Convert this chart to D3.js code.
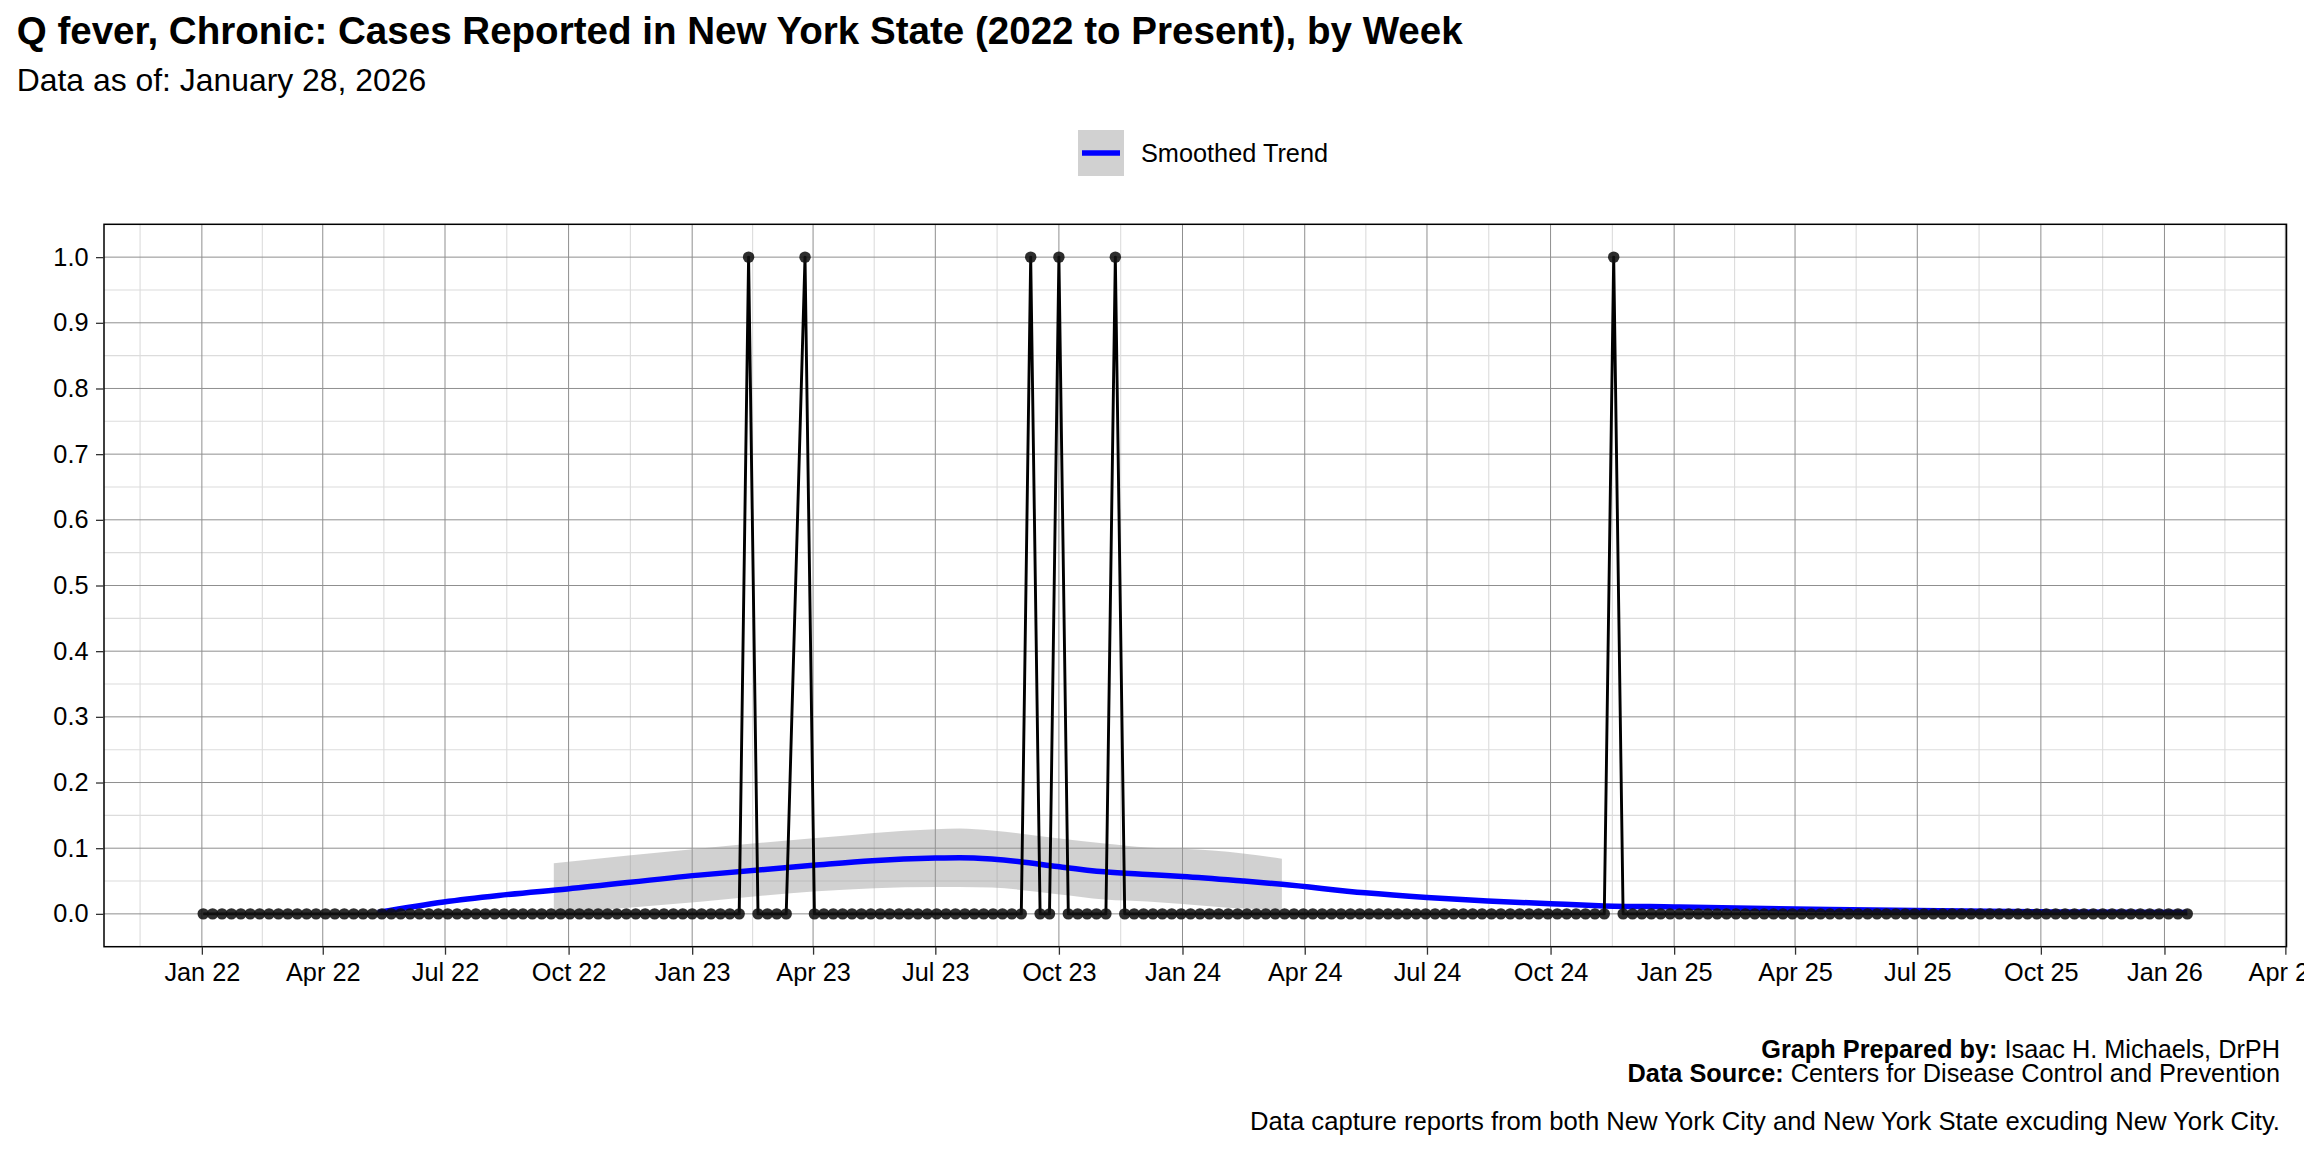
<!DOCTYPE html>
<html><head><meta charset="utf-8">
<script src="https://cdn.jsdelivr.net/npm/d3@7"></script>
<style>
body{margin:0;background:#fff}
svg{display:block}
text{font-family:"Liberation Sans",Arial,Helvetica,sans-serif;fill:#000}
</style>
</head><body>
<svg id="chart" width="2304" height="1152"></svg>
<script>
// ---------- DATA ----------
const firstWeek = "2022-01-02";           // week start of first observation (weekly series)
// weekly case counts, one entry per week from firstWeek (null = week not reported)
const weeklyCases = [
  0,0,0,0,0,0,0,0,0,0,0,0,0,0,0,0,0,0,0,0,
  0,0,0,0,0,0,0,0,0,0,0,0,0,0,0,0,0,0,0,0,
  0,0,0,0,0,0,0,0,0,0,0,0,0,0,0,0,0,0,1,0,
  0,0,0,null,1,0,0,0,0,0,0,0,0,0,0,0,0,0,0,0,
  0,0,0,0,0,0,0,0,1,0,0,1,0,0,0,0,0,1,0,0,
  0,0,0,0,0,0,0,0,0,0,0,0,0,0,0,0,0,0,0,0,
  0,0,0,0,0,0,0,0,0,0,0,0,0,0,0,0,0,0,0,0,
  0,0,0,0,0,0,0,0,0,0,1,0,0,0,0,0,0,0,0,0,
  0,0,0,0,0,0,0,0,0,0,0,0,0,0,0,0,0,0,0,0,
  0,0,0,0,0,0,0,0,0,0,0,0,0,0,0,0,0,0,0,0,
  0,0,0,0,0,0,0,0,0,0,0,0
];
// smoothed trend (visible part)
const trendDates = ["2022-05-12","2022-06-30","2022-08-10","2022-09-30","2023-01-06","2023-04-01",
  "2023-05-15","2023-07-01","2023-07-19","2023-08-12","2023-09-02","2023-09-30","2023-11-04",
  "2023-12-06","2024-01-01","2024-02-15","2024-03-15","2024-05-16","2024-07-01","2024-08-15",
  "2024-10-01","2024-11-06","2025-01-01","2025-04-01","2025-06-30","2025-10-07","2026-01-18"];
const trendValues = [0.002,0.018,0.028,0.038,0.059,0.074,
  0.081,0.085,0.0856,0.0835,0.0795,0.072,0.064,
  0.060,0.057,0.050,0.045,0.032,0.025,0.0196,
  0.0155,0.0125,0.0105,0.0075,0.005,0.003,0.002];
// confidence band (visible part)
const bandDates = ["2022-09-20","2023-01-09","2023-04-01","2023-07-01","2023-07-19","2023-08-12",
  "2023-09-30","2023-11-04","2023-12-06","2024-01-01","2024-02-15","2024-03-15"];
const bandUpper = [0.077,0.100,0.115,0.129,0.130,0.127,0.115,0.107,0.101,0.099,0.092,0.084];
const bandLower = [0.000,0.019,0.034,0.041,0.041,0.040,0.030,0.022,0.019,0.015,0.008,0.006];
const yTickValues = [0,0.1,0.2,0.3,0.4,0.5,0.6,0.7,0.8,0.9,1.0];
const titleText = "Q fever, Chronic: Cases Reported in New York State (2022 to Present), by Week";
const subtitleText = "Data as of: January 28, 2026";
const legendLabel = "Smoothed Trend";

// ---------- BUILD ----------
const parse = d3.utcParse("%Y-%m-%d");
const start = parse(firstWeek);
const series = weeklyCases.map((v,i)=>({date:d3.utcDay.offset(start,7*i), value:v}))
  .filter(d=>d.value!==null);
const trend = trendDates.map((d,i)=>({date:parse(d), value:trendValues[i]}));
const band = bandDates.map((d,i)=>({date:parse(d), hi:bandUpper[i], lo:bandLower[i]}));

const svg = d3.select("#chart");
const P = {left:104, right:2286.5, top:224.3, bottom:946.7};
const FS = 25.3;

const [d0,d1] = d3.extent(series, d=>d.date);
const pad = (d1-d0)*0.05;
const x = d3.scaleUtc().domain([new Date(+d0-pad), new Date(+d1+pad)]).range([P.left,P.right]);
const y = d3.scaleLinear().domain([-0.05,1.05]).range([P.bottom,P.top]);

// gridlines
const majorX = d3.utcMonth.every(3).range(d3.utcMonth.offset(x.domain()[0],-3), d3.utcMonth.offset(x.domain()[1],3));
const minorX = [];
for(let i=0;i<majorX.length-1;i++) minorX.push(new Date((+majorX[i]+ +majorX[i+1])/2));
const inX = d=>x(d)>P.left+0.5 && x(d)<P.right-0.5;
const minorY = d3.range(-0.05,1.06,0.1).map(v=>+v.toFixed(2)).filter(v=>v>-0.04&&v<1.04);

const grid = svg.append("g");
grid.selectAll(".mny").data(minorY).join("line")
  .attr("x1",P.left).attr("x2",P.right).attr("y1",d=>y(d)).attr("y2",d=>y(d))
  .attr("stroke","#dcdcdc").attr("stroke-width",1.1);
grid.selectAll(".mnx").data(minorX.filter(inX)).join("line")
  .attr("y1",P.top).attr("y2",P.bottom).attr("x1",d=>x(d)).attr("x2",d=>x(d))
  .attr("stroke","#dcdcdc").attr("stroke-width",1.1);
grid.selectAll(".mjy").data(yTickValues).join("line")
  .attr("x1",P.left).attr("x2",P.right).attr("y1",d=>y(d)).attr("y2",d=>y(d))
  .attr("stroke","#8f8f8f").attr("stroke-width",1);
grid.selectAll(".mjx").data(majorX.filter(inX)).join("line")
  .attr("y1",P.top).attr("y2",P.bottom).attr("x1",d=>x(d)).attr("x2",d=>x(d))
  .attr("stroke","#8f8f8f").attr("stroke-width",1);

// confidence band
svg.append("path").datum(band)
  .attr("d", d3.area().x(d=>x(d.date)).y0(d=>y(d.lo)).y1(d=>y(d.hi)).curve(d3.curveMonotoneX))
  .attr("fill","#999999").attr("fill-opacity",0.45);

// smoothed trend
svg.append("path").datum(trend)
  .attr("d", d3.line().x(d=>x(d.date)).y(d=>y(d.value)).curve(d3.curveMonotoneX))
  .attr("fill","none").attr("stroke","#0000ff").attr("stroke-width",5.5);

// weekly line
svg.append("path").datum(series)
  .attr("d", d3.line().x(d=>x(d.date)).y(d=>y(d.value)))
  .attr("fill","none").attr("stroke","#000").attr("stroke-width",2.9).attr("stroke-linejoin","round");

// points
svg.append("g").selectAll("circle").data(series).join("circle")
  .attr("cx",d=>x(d.date)).attr("cy",d=>y(d.value)).attr("r",5.7)
  .attr("fill","#111").attr("fill-opacity",0.88);

// panel border
svg.append("rect").attr("x",P.left).attr("y",P.top).attr("width",P.right-P.left).attr("height",P.bottom-P.top)
  .attr("fill","none").attr("stroke","#000").attr("stroke-width",1.5);

// axes
const xAxis = svg.append("g").attr("transform",`translate(0,${P.bottom})`)
  .call(d3.axisBottom(x).tickValues(majorX.filter(d=>x(d)>=P.left-1&&x(d)<=P.right+1))
    .tickFormat(d3.utcFormat("%b %y")).tickSize(8).tickPadding(8.3));
const yAxis = svg.append("g").attr("transform",`translate(${P.left},0)`)
  .call(d3.axisLeft(y).tickValues(yTickValues).tickFormat(d3.format(".1f")).tickSize(8).tickPadding(7.5));
[xAxis,yAxis].forEach(a=>{
  a.select(".domain").remove();
  a.selectAll(".tick line").attr("stroke","#333").attr("stroke-width",1.3);
  a.selectAll(".tick text").attr("font-size",FS).attr("fill","#000")
    .style("font-family",'"Liberation Sans",Arial,sans-serif');
});

// titles
svg.append("text").attr("x",16.7).attr("y",44.3).attr("font-size",38.55).attr("font-weight","bold").text(titleText);
svg.append("text").attr("x",16.7).attr("y",90.7).attr("font-size",31.9).text(subtitleText);

// legend
const lg = svg.append("g");
lg.append("rect").attr("x",1078).attr("y",130).attr("width",46).attr("height",46)
  .attr("fill","#999999").attr("fill-opacity",0.45);
lg.append("line").attr("x1",1082).attr("x2",1120).attr("y1",153).attr("y2",153)
  .attr("stroke","#0000ff").attr("stroke-width",5.5);
lg.append("text").attr("x",1141).attr("y",153).attr("dy","0.35em").attr("font-size",FS).text(legendLabel);

// caption
const cap = svg.append("g").attr("font-size",FS).attr("text-anchor","end");
const c1 = cap.append("text").attr("x",2280).attr("y",1058.3);
c1.append("tspan").attr("font-weight","bold").text("Graph Prepared by:");
c1.append("tspan").text(" Isaac H. Michaels, DrPH");
const c2 = cap.append("text").attr("x",2280).attr("y",1082.3);
c2.append("tspan").attr("font-weight","bold").text("Data Source:");
c2.append("tspan").text(" Centers for Disease Control and Prevention");
cap.append("text").attr("x",2280).attr("y",1130).attr("font-size",25.65)
  .text("Data capture reports from both New York City and New York State excuding New York City.");
</script>
</body></html>
